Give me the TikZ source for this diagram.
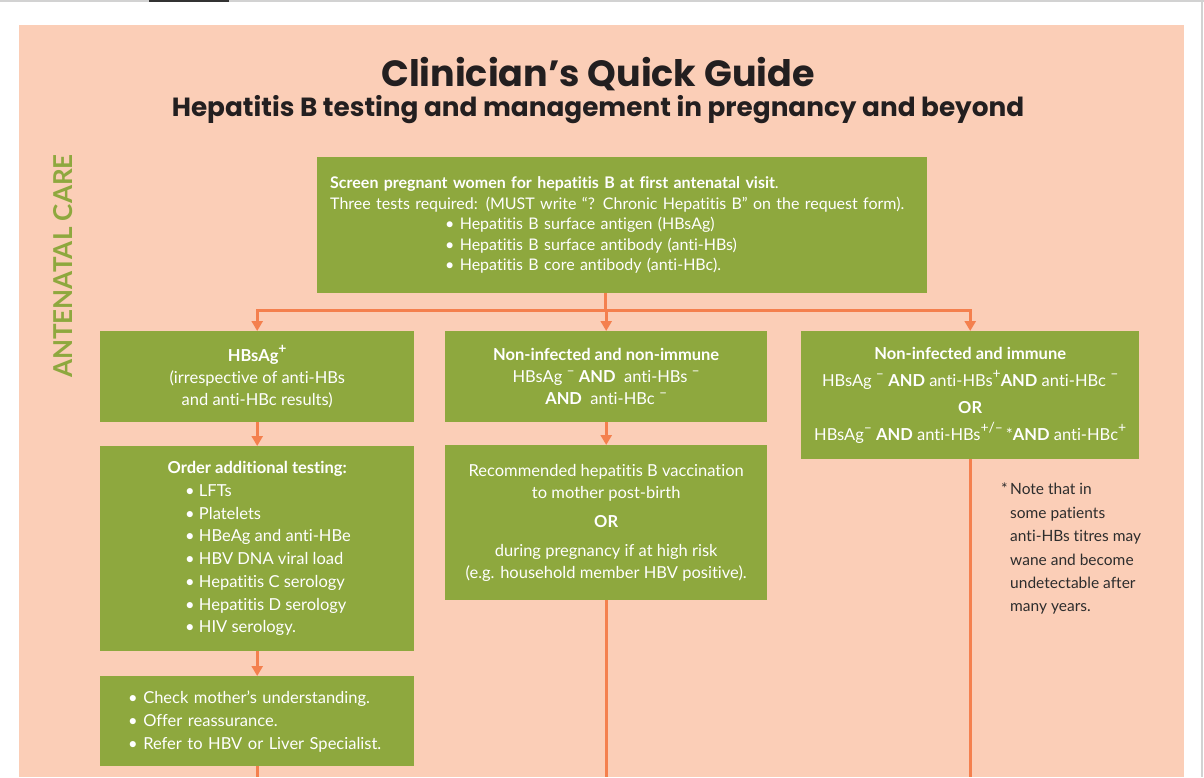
\documentclass[tikz,border=0pt]{standalone}
\usepackage{fontspec}
\setmainfont{Lato}[Ligatures=NoCommon]
\newfontfamily\titlefont{Poppins}
\usetikzlibrary{arrows.meta,positioning}

\definecolor{peach}{RGB}{251,206,183}
\definecolor{boxgreen}{RGB}{142,168,62}
\definecolor{linkorange}{RGB}{244,128,78}
\definecolor{inkdark}{RGB}{35,31,32}
\definecolor{notegray}{RGB}{45,45,45}

\newcommand{\sups}[1]{\raisebox{0.45em}{\fontsize{14}{14}\selectfont #1}}

\tikzset{
  box/.style={fill=boxgreen, text=white, anchor=north west, inner sep=0pt,
    align=center, font=\fontsize{16.5}{22}\selectfont},
  trunk/.style={draw=linkorange, line width=3pt},
  link/.style={trunk, -{Triangle[width=11pt,length=10pt]}},
}

\begin{document}
\begin{tikzpicture}[x=1pt,y=1pt]
    % PAGINA I FONS
    \useasboundingbox (0,0) rectangle (1204,-777);
    \fill[white] (0,0) rectangle (1204,-777);
    \fill[gray!35] (0,0) rectangle (1204,-2);
    \fill[black!80] (149,0) rectangle (229,-2);
    \fill[gray!35] (1201,0) rectangle (1203,-777);
    \fill[peach] (19,-25) rectangle (1184,-777);

    % TITOLS
    \node[anchor=base, text=inkdark, font=\titlefont\bfseries\fontsize{36.5}{36.5}\selectfont] (title) at (598,-86) {Clinician’s Quick Guide};
    \node[anchor=base, text=inkdark, font=\titlefont\bfseries\fontsize{26.3}{26.3}\selectfont] (subtitle) at (598,-116) {Hepatitis B testing and management in pregnancy and beyond};
    \node[rotate=90, text=boxgreen, font=\bfseries\fontsize{26}{26}\selectfont] (stage) at (63,-266) {ANTENATAL CARE};

    % CAIXES
    \node[box, minimum width=610pt, minimum height=136pt, text width=584pt, align=left, font=\fontsize{16}{20.5}\selectfont] (screen) at (317,-157) {%
      \mbox{\bfseries Screen pregnant women for hepatitis B at first antenatal visit}.\\
      \mbox{Three tests required: (MUST write “? Chronic Hepatitis B” on the request form).}\\
      \hspace*{115pt}• Hepatitis B surface antigen (HBsAg)\\
      \hspace*{115pt}• Hepatitis B surface antibody (anti-HBs)\\
      \hspace*{115pt}• Hepatitis B core antibody (anti-HBc).};

    \node[box, minimum width=314pt, minimum height=91pt] (hbsag) at (100,-331) {%
      {\bfseries HBsAg\sups{+}}\\(irrespective of anti-HBs\\and anti-HBc results)};
    \node[box, minimum width=322pt, minimum height=91pt] (nonimm) at (445,-331) {%
      {\bfseries Non-infected and non-immune}\\
      HBsAg \sups{–} \textbf{AND}~ anti-HBs \sups{–}\\
      \textbf{AND}~ anti-HBc \sups{–}};
    \node[box, minimum width=338pt, minimum height=128pt, font=\fontsize{16.5}{27}\selectfont] (immune) at (801,-331) {%
      {\bfseries Non-infected and immune}\\
      HBsAg \sups{–} \textbf{AND} anti-HBs\sups{+}\textbf{AND} anti-HBc \sups{–}\\
      \textbf{OR}\\
      HBsAg\sups{–} \textbf{AND} anti-HBs\sups{+/–}\,*\textbf{AND} anti-HBc\sups{+}};

    \node[box, minimum width=314pt, minimum height=205pt, font=\fontsize{16.5}{22.7}\selectfont] (order) at (100,-446) {%
      {\bfseries Order additional testing:}\\
      \makebox[144pt][l]{• LFTs}\\
      \makebox[144pt][l]{• Platelets}\\
      \makebox[144pt][l]{• HBeAg and anti-HBe}\\
      \makebox[144pt][l]{• HBV DNA viral load}\\
      \makebox[144pt][l]{• Hepatitis C serology}\\
      \makebox[144pt][l]{• Hepatitis D serology}\\
      \makebox[144pt][l]{• HIV serology.}};
    \node[box, minimum width=314pt, minimum height=90pt, text width=258pt, align=left, font=\fontsize{16.5}{23}\selectfont] (advice) at (100,-676) {%
      • Check mother’s understanding.\\
      • Offer reassurance.\\
      • Refer to HBV or Liver Specialist.};
    \node[box, minimum width=322pt, minimum height=155pt] (vaccine) at (445,-445) {%
      Recommended hepatitis B vaccination\\
      to mother post-birth\\[7pt]
      \textbf{OR}\\[7pt]
      during pregnancy if at high risk\\
      (e.g. household member HBV positive).};

    % NOTA
    \node[anchor=north west, inner sep=0pt, align=left, text=notegray, font=\fontsize{15.5}{23.4}\selectfont] (note) at (1010,-483) {%
      \llap{*\,}Note that in\\
      some patients\\
      anti-HBs titres may\\
      wane and become\\
      undetectable after\\
      many years.};

    % CONNECTORS
    \coordinate (split) at (605,-310);
    \coordinate (bottom) at (0,-777);
    \draw[trunk] (split |- screen.south) -- (split);
    \foreach \n in {hbsag,nonimm,immune}
        \draw[link] (split) -| (\n.north);
    \draw[link] (hbsag.south) -- (order.north);
    \draw[link] (order.south) -- (advice.north);
    \draw[link] (nonimm.south) -- (vaccine.north);
    \foreach \n in {advice,vaccine,immune}
        \draw[trunk] (\n.south) -- (\n.south |- bottom);

\end{tikzpicture}
\end{document}
